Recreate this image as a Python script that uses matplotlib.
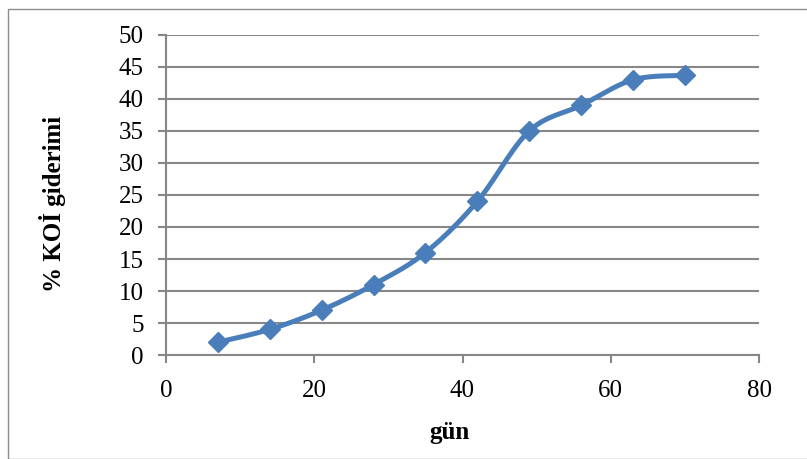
import numpy as np
import matplotlib.pyplot as plt
from matplotlib.patches import Rectangle

days = [7, 14, 21, 28, 35, 42, 49, 56, 63, 70]
removal = [2, 4, 7, 11, 16, 24, 35, 39, 43, 43.7]
x_ticks = [0, 20, 40, 60, 80]
y_ticks = [0, 5, 10, 15, 20, 25, 30, 35, 40, 45, 50]

blue = '#4A7EBB'
grey = '#878787'


def smooth_curve(x, y, n=30):
    # Excel-like smoothing: Catmull-Rom through the points
    x = np.asarray(x, float)
    y = np.asarray(y, float)
    px = np.concatenate([[x[0]], x, [x[-1]]])
    py = np.concatenate([[y[0]], y, [y[-1]]])
    xs, ys = [], []
    t = np.linspace(0, 1, n)
    for i in range(1, len(px) - 2):
        p0, p1, p2, p3 = [np.array([px[j], py[j]]) for j in (i - 1, i, i + 1, i + 2)]
        c1 = p1 + (p2 - p0) / 6
        c2 = p2 - (p3 - p1) / 6
        b = ((1 - t) ** 3)[:, None] * p1 + (3 * (1 - t) ** 2 * t)[:, None] * c1 \
            + (3 * (1 - t) * t ** 2)[:, None] * c2 + (t ** 3)[:, None] * p2
        xs.extend(b[:, 0])
        ys.extend(b[:, 1])
    return xs, ys


plt.rcParams['font.family'] = 'Liberation Serif'

fig = plt.figure(figsize=(8.07, 4.59), dpi=100)
fig.patches.append(Rectangle((8 / 807, 0), 1, 1 - 9 / 459, transform=fig.transFigure,
                             fill=False, edgecolor='#8c8c8c', linewidth=1))

ax = fig.add_axes([166 / 807, 1 - 355 / 459, (759 - 166) / 807, (355 - 35) / 459])

sx, sy = smooth_curve(days, removal)
ax.plot(sx, sy, color=blue, linewidth=3.6, solid_capstyle='round', zorder=3)
ax.plot(days, removal, linestyle='none', marker='D', markersize=10.5,
        color=blue, zorder=4)

ax.set_xlim(0, 80)
ax.set_ylim(0, 50)
ax.set_xticks(x_ticks)
ax.set_yticks(y_ticks)
ax.yaxis.grid(True, color=grey, linewidth=1.5)
ax.set_axisbelow(True)

for s in ('top', 'right'):
    ax.spines[s].set_visible(False)
for s in ('left', 'bottom'):
    ax.spines[s].set_color(grey)
    ax.spines[s].set_linewidth(1.5)

ax.tick_params(axis='both', direction='out', length=6, width=1.5, color=grey,
               labelsize=18, labelcolor='black')
ax.tick_params(axis='x', pad=12)
ax.tick_params(axis='y', pad=10)

fig.text(53 / 807, 1 - 204 / 459, '% KOİ giderimi', rotation=90, fontsize=18,
         fontweight='bold', ha='center', va='center')
fig.text(449 / 807, 1 - 433 / 459, 'gün', fontsize=18, fontweight='bold',
         ha='center', va='center')

fig.savefig('out.png', dpi=100)
